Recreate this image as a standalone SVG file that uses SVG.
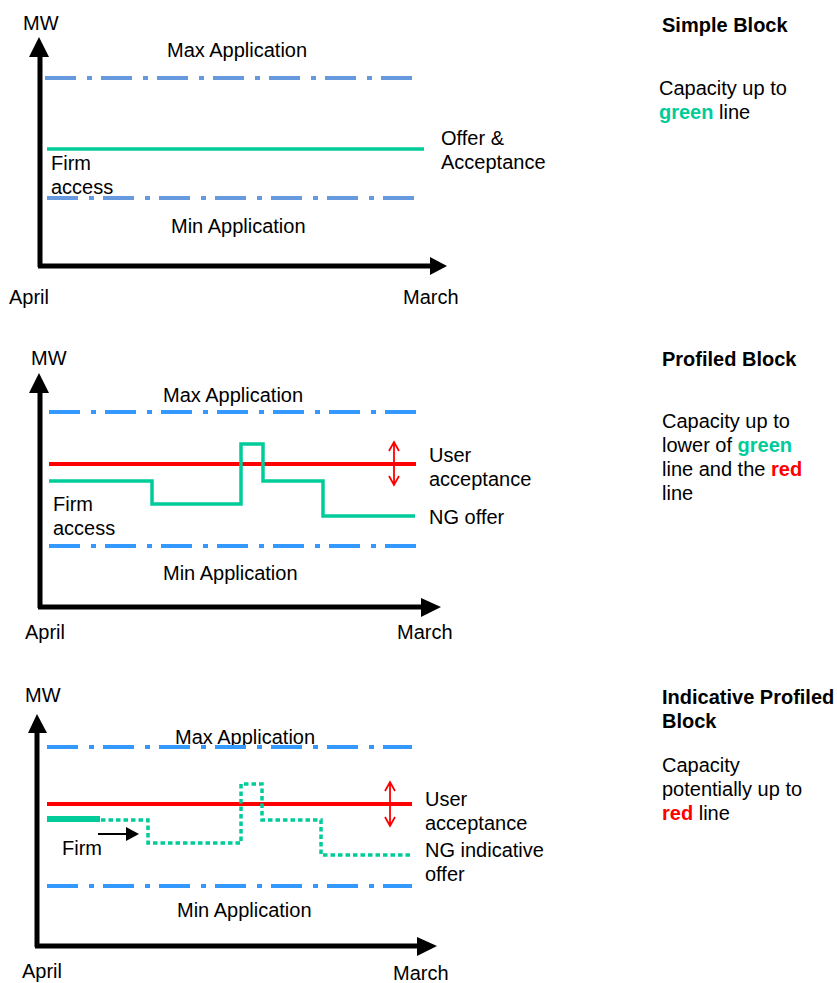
<svg xmlns="http://www.w3.org/2000/svg" width="837" height="983" viewBox="0 0 837 983">
<style>
text{font-family:"Liberation Sans",Arial,sans-serif;font-size:20px;fill:#000}
.b{font-weight:bold}
.g{fill:#00cc99;font-weight:bold}
.r{fill:#ff0000;font-weight:bold}
.axis{stroke:#000;stroke-width:5;fill:none}
.ah{fill:#000}
.dd1{stroke:#6699dd;stroke-width:4;stroke-dasharray:31 11 5 9;fill:none}
.dd{stroke:#3399ff;stroke-width:4;stroke-dasharray:31 11 5 9;fill:none}
.red{stroke:#ff0000;stroke-width:4;fill:none}
.grn{stroke:#00cc99;stroke-width:3.5;fill:none}
.dot{stroke:#00cc99;stroke-width:3.5;stroke-dasharray:4.5 3;fill:none}
.rarr{stroke:#ff0000;stroke-width:1.8;fill:none}
</style>
<g id="panel1">
<text x="23" y="30">MW</text>
<path class="axis" d="M40 267V55M38 266H432"/>
<path class="ah" d="M39 37L29 57H49Z"/>
<path class="ah" d="M447 266L430 257V275Z"/>
<text x="167" y="57">Max Application</text>
<path class="dd1" d="M45 78H414"/>
<path class="grn" d="M47 149H424"/>
<text x="51" y="170">Firm</text>
<text x="51" y="194">access</text>
<path class="dd1" d="M47 198H416"/>
<text x="171" y="233">Min Application</text>
<text x="9" y="304">April</text>
<text x="403" y="304">March</text>
<text x="441" y="145">Offer &amp;</text>
<text x="441" y="169">Acceptance</text>
</g>
<g id="desc1">
<text class="b" x="662" y="32">Simple Block</text>
<text x="659" y="95">Capacity up to</text>
<text x="659" y="119"><tspan class="g">green</tspan> line</text>
</g>
<g id="panel2">
<text x="31" y="365">MW</text>
<path class="axis" d="M40 608V390M38 607H424"/>
<path class="ah" d="M39 373L29 393H49Z"/>
<path class="ah" d="M441 607L421 598V617Z"/>
<text x="163" y="402">Max Application</text>
<path class="dd" d="M49 412H416"/>
<path class="red" d="M49 464H416"/>
<path class="grn" d="M49 481H152V504H241V444H263V481H323V516H415"/>
<path class="rarr" d="M394 442V485M389 451L394 442L399 451M389 476L394 485L399 476"/>
<text x="429" y="462">User</text>
<text x="429" y="486">acceptance</text>
<text x="429" y="524">NG offer</text>
<text x="53" y="511">Firm</text>
<text x="53" y="535">access</text>
<path class="dd" d="M49 546H416"/>
<text x="163" y="580">Min Application</text>
<text x="25" y="639">April</text>
<text x="397" y="639">March</text>
</g>
<g id="desc2">
<text class="b" x="662" y="366">Profiled Block</text>
<text x="662" y="428">Capacity up to</text>
<text x="662" y="452">lower of <tspan class="g">green</tspan></text>
<text x="662" y="476">line and the <tspan class="r">red</tspan></text>
<text x="662" y="500">line</text>
</g>
<g id="panel3">
<text x="25" y="702">MW</text>
<path class="axis" d="M37 947V730M35 946H419"/>
<path class="ah" d="M37 714L28 733H47Z"/>
<path class="ah" d="M437 946L417 937V956Z"/>
<text x="175" y="744">Max Application</text>
<path class="dd" d="M47 747H412"/>
<path class="red" d="M47 804H412"/>
<path stroke="#00cc99" stroke-width="6" d="M47 819H100"/>
<path class="dot" d="M101 820H148V843H241V784H262V820H321V855H412"/>
<path stroke="#000" stroke-width="2" d="M98 834H128"/>
<path class="ah" d="M139 834L126 827V841Z"/>
<text x="62" y="855">Firm</text>
<path class="rarr" d="M390 782V826M385 791L390 782L395 791M385 817L390 826L395 817"/>
<text x="425" y="806">User</text>
<text x="425" y="830">acceptance</text>
<text x="425" y="857">NG indicative</text>
<text x="425" y="881">offer</text>
<path class="dd" d="M47 886H412"/>
<text x="177" y="917">Min Application</text>
<text x="22" y="978">April</text>
<text x="393" y="980">March</text>
</g>
<g id="desc3">
<text class="b" x="662" y="704">Indicative Profiled</text>
<text class="b" x="662" y="728">Block</text>
<text x="662" y="772">Capacity</text>
<text x="662" y="796">potentially up to</text>
<text x="662" y="820"><tspan class="r">red</tspan> line</text>
</g>
</svg>
